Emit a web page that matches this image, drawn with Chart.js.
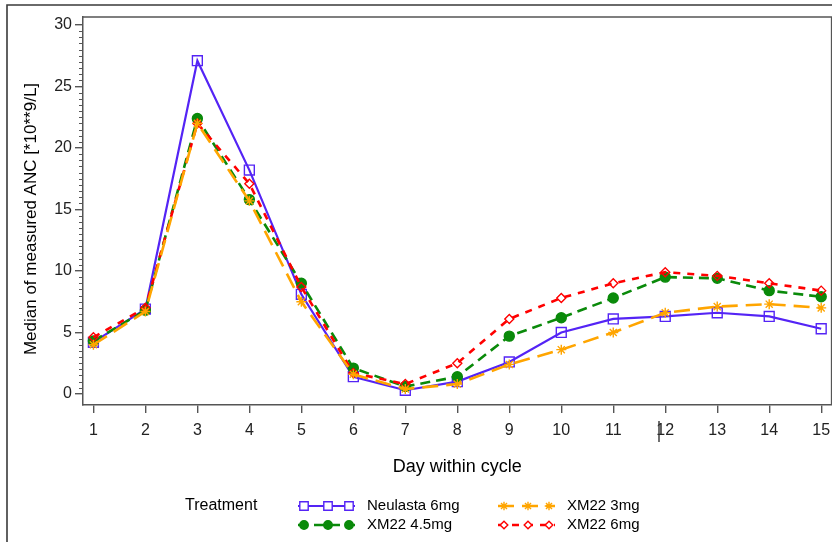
<!DOCTYPE html>
<html>
<head>
<meta charset="utf-8">
<script src="https://cdn.jsdelivr.net/npm/chart.js@4.4.1/dist/chart.umd.min.js"></script>
<style>
  html, body { margin:0; padding:0; background:#fff; overflow:hidden; }
  #wrap { width:840px; height:542px; }
</style>
</head>
<body>
<div id="wrap"><canvas id="ancChart" width="840" height="542"></canvas></div>
<script>
// days within cycle
const days = [1,2,3,4,5,6,7,8,9,10,11,12,13,14,15];
const yTickValues = [0,5,10,15,20,25,30];

// median ANC per treatment
const neulasta6 = [4.2,6.9,27.1,18.2,8.1,1.4,0.3,1.0,2.6,5.0,6.1,6.3,6.6,6.3,5.3];
const xm22_3    = [4.0,6.7,22.0,15.7,7.5,1.6,0.4,0.8,2.4,3.6,5.0,6.6,7.1,7.3,7.0];
const xm22_45   = [4.3,6.8,22.4,15.8,9.0,2.1,0.6,1.4,4.7,6.2,7.8,9.5,9.4,8.4,7.9];
const xm22_6    = [4.6,7.0,22.0,17.1,8.7,1.7,0.8,2.5,6.1,7.8,9.0,9.9,9.6,9.0,8.4];

const FONT = '"Liberation Sans", Arial, sans-serif';
const yTitle = 'Median of measured ANC [*10**9/L]';

function series(label, vals, color, style, radius, fill, dash, lw, order) {
  return {
    label: label,
    data: days.map((d,i) => ({ x: d, y: vals[i] })),
    borderColor: color,
    borderWidth: lw,
    borderDash: dash,
    pointStyle: style,
    pointRadius: radius,
    pointBorderColor: color,
    pointBackgroundColor: fill ? color : 'rgba(255,255,255,0)',
    pointBorderWidth: 1.4,
    tension: 0,
    fill: false,
    order: order
  };
}

// legend listed row by row, two columns (SAS style)
const datasets = [
  series('Neulasta 6mg', neulasta6, '#5424f5', 'rect', 7, false, [], 2.2, 3),
  series('XM22 3mg', xm22_3, '#ffa500', 'star', 5, false, [16,8], 2.6, 0),
  series('XM22 4.5mg', xm22_45, '#0a8a0a', 'circle', 5, true, [10,6], 2.6, 2),
  series('XM22 6mg', xm22_6, '#ff0000', 'rectRot', 4.5, false, [7,7], 2.6, 1)
];

const framePlugin = {
  id: 'frame',
  afterDraw(chart) {
    const ctx = chart.ctx;
    const a = chart.chartArea;
    const y = chart.scales.y;
    ctx.save();
    // outer border
    ctx.strokeStyle = '#3a3a3a';
    ctx.lineWidth = 1.6;
    ctx.beginPath();
    ctx.moveTo(7, 542); ctx.lineTo(7, 5); ctx.lineTo(840, 5);
    ctx.stroke();
    // plot box top and right
    ctx.strokeStyle = '#555';
    ctx.lineWidth = 1.5;
    ctx.beginPath();
    ctx.moveTo(a.left, a.top); ctx.lineTo(a.right, a.top); ctx.lineTo(a.right, a.bottom);
    ctx.stroke();
    // minor ticks on y
    ctx.lineWidth = 1;
    ctx.beginPath();
    for (let v = 0.5; v < 30; v += 0.5) {
      if (v % 5 === 0) continue;
      const py = Math.round(y.getPixelForValue(v)) + 0.5;
      ctx.moveTo(a.left - 4, py); ctx.lineTo(a.left, py);
    }
    ctx.stroke();
    // stray caret mark near the 12 label
    ctx.strokeStyle = '#333';
    ctx.lineWidth = 1.4;
    ctx.beginPath();
    ctx.moveTo(659, 421); ctx.lineTo(659, 442);
    ctx.stroke();

    // y axis title
    ctx.save();
    ctx.translate(31, 219);
    ctx.rotate(-Math.PI / 2);
    ctx.fillStyle = '#000';
    ctx.font = '17px ' + FONT;
    ctx.textAlign = 'center';
    ctx.textBaseline = 'middle';
    ctx.fillText(yTitle, 0, 0);
    ctx.restore();

    // legend
    ctx.fillStyle = '#000';
    ctx.font = '16px ' + FONT;
    ctx.textBaseline = 'middle';
    ctx.textAlign = 'left';
    ctx.fillText('Treatment', 185, 506);
    ctx.font = '15px ' + FONT;
    const cols = [298, 498];
    const rows = [506, 525];
    chart.data.datasets.forEach((ds, i) => {
      const x0 = cols[i % 2];
      const yy = rows[Math.floor(i / 2)];
      ctx.save();
      ctx.strokeStyle = ds.borderColor;
      ctx.lineWidth = ds.borderWidth;
      ctx.setLineDash(ds.borderDash);
      ctx.beginPath();
      ctx.moveTo(x0, yy); ctx.lineTo(x0 + 57, yy);
      ctx.stroke();
      ctx.setLineDash([]);
      ctx.strokeStyle = ds.borderColor;
      ctx.lineWidth = 1.4;
      [6, 30, 51].forEach(dx => {
        ctx.fillStyle = ds.pointBackgroundColor === 'rgba(255,255,255,0)' ? '#fff' : ds.pointBackgroundColor;
        Chart.helpers.drawPoint(ctx, { pointStyle: ds.pointStyle, radius: ds.pointRadius * 0.85, borderWidth: 1.4, rotation: 0 }, x0 + dx, yy);
      });
      ctx.restore();
      ctx.fillStyle = '#000';
      ctx.fillText(ds.label, x0 + 69, yy);
    });
    ctx.restore();
  }
};

new Chart(document.getElementById('ancChart'), {
  type: 'line',
  data: { datasets: datasets },
  options: {
    responsive: false,
    animation: false,
    devicePixelRatio: 1,
    layout: { padding: { left: 0, top: 17, right: 5, bottom: 0 } },
    plugins: { legend: { display: false }, tooltip: { enabled: false } },
    scales: {
      x: {
        type: 'linear', min: 0.8, max: 15.2,
        afterFit: s => { s.height = 137; },
        afterBuildTicks: s => { s.ticks = days.map(v => ({ value: v })); },
        ticks: { color: '#222', font: { family: FONT, size: 16 }, padding: 8, autoSkip: false, maxRotation: 0 },
        grid: { drawOnChartArea: false, drawTicks: true, tickLength: 8, color: '#555', lineWidth: 1.4 },
        border: { display: true, color: '#555', width: 1.5 },
        title: { display: true, text: 'Day within cycle', color: '#000', font: { family: FONT, size: 18 }, padding: { top: 0, bottom: 64 } }
      },
      y: {
        min: -0.9, max: 30.65,
        afterFit: s => { s.width = 83; },
        afterBuildTicks: s => { s.ticks = yTickValues.map(v => ({ value: v })); },
        ticks: { color: '#222', font: { family: FONT, size: 16 }, padding: 3 },
        grid: { drawOnChartArea: false, drawTicks: true, tickLength: 8, color: '#555', lineWidth: 1.4 },
        border: { display: true, color: '#555', width: 1.5 },
        title: { display: false }
      }
    }
  },
  plugins: [framePlugin]
});
</script>
</body>
</html>
